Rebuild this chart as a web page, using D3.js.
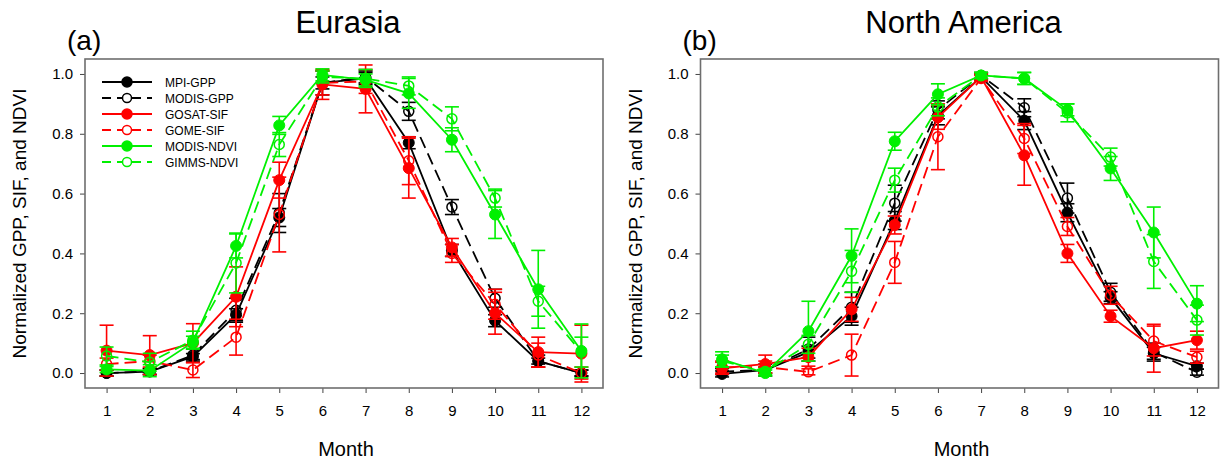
<!DOCTYPE html>
<html>
<head>
<meta charset="utf-8">
<script src="https://cdn.jsdelivr.net/npm/d3@7"></script>
<style>
  body { margin: 0; background: #fff; }
  text { font-family: "Liberation Sans", Arial, sans-serif; }
</style>
</head>
<body>
<div id="container"></div>
<script>
/** DATA */
const months = [1, 2, 3, 4, 5, 6, 7, 8, 9, 10, 11, 12];
const seriesNames = ["MPI-GPP", "MODIS-GPP", "GOSAT-SIF", "GOME-SIF", "MODIS-NDVI", "GIMMS-NDVI"];
const yTicks = [0.0, 0.2, 0.4, 0.6, 0.8, 1.0];

// Eurasia
const euMpiGpp      = [0.0, 0.005, 0.055, 0.195, 0.52, 0.97, 0.985, 0.77, 0.41, 0.175, 0.04, 0.0];
const euMpiGppErr   = [0.01, 0.01, 0.01, 0.02, 0.03, 0.02, 0.02, 0.02, 0.02, 0.02, 0.01, 0.01];
const euModisGpp    = [0.0, 0.005, 0.06, 0.21, 0.535, 0.97, 0.99, 0.875, 0.555, 0.25, 0.04, 0.0];
const euModisGppErr = [0.01, 0.01, 0.02, 0.04, 0.065, 0.04, 0.02, 0.03, 0.025, 0.03, 0.02, 0.01];
const euGosatSif    = [0.075, 0.06, 0.1, 0.255, 0.645, 0.965, 0.95, 0.685, 0.42, 0.2, 0.07, 0.065];
const euGosatSifErr = [0.085, 0.065, 0.065, 0.1, 0.06, 0.05, 0.08, 0.1, 0.03, 0.07, 0.05, 0.095];
const euGomeSif     = [0.03, 0.04, 0.01, 0.12, 0.53, 0.97, 0.975, 0.71, 0.40, 0.23, 0.06, 0.0];
const euGomeSifErr  = [0.02, 0.02, 0.025, 0.06, 0.125, 0.04, 0.04, 0.08, 0.03, 0.05, 0.04, 0.02];
const euModisNdvi   = [0.012, 0.008, 0.103, 0.425, 0.828, 0.997, 0.98, 0.935, 0.78, 0.53, 0.28, 0.074];
const euModisNdviErr= [0.01, 0.02, 0.02, 0.04, 0.03, 0.02, 0.02, 0.05, 0.04, 0.08, 0.13, 0.09];
const euGimmsNdvi   = [0.057, 0.036, 0.11, 0.368, 0.764, 0.99, 0.985, 0.96, 0.85, 0.585, 0.24, 0.07];
const euGimmsNdviErr= [0.03, 0.03, 0.03, 0.1, 0.04, 0.02, 0.03, 0.03, 0.04, 0.03, 0.05, 0.05];

// North America
const naMpiGpp      = [-0.003, 0.01, 0.07, 0.19, 0.51, 0.86, 0.99, 0.844, 0.536, 0.252, 0.066, 0.023];
const naMpiGppErr   = [0.01, 0.01, 0.02, 0.03, 0.03, 0.03, 0.01, 0.03, 0.03, 0.02, 0.02, 0.01];
const naModisGpp    = [0.005, 0.01, 0.08, 0.22, 0.568, 0.88, 0.995, 0.887, 0.585, 0.27, 0.07, 0.003];
const naModisGppErr = [0.01, 0.02, 0.04, 0.05, 0.06, 0.03, 0.01, 0.03, 0.05, 0.03, 0.03, 0.01];
const naGosatSif    = [0.016, 0.03, 0.053, 0.213, 0.495, 0.855, 0.99, 0.728, 0.40, 0.19, 0.083, 0.11];
const naGosatSifErr = [0.02, 0.03, 0.03, 0.04, 0.03, 0.04, 0.01, 0.1, 0.03, 0.02, 0.08, 0.03];
const naGomeSif     = [0.02, 0.02, 0.004, 0.06, 0.37, 0.79, 0.985, 0.784, 0.49, 0.26, 0.107, 0.053];
const naGomeSifErr  = [0.02, 0.02, 0.01, 0.07, 0.07, 0.11, 0.01, 0.05, 0.03, 0.03, 0.05, 0.02];
const naModisNdvi   = [0.046, 0.0, 0.14, 0.392, 0.775, 0.932, 0.995, 0.985, 0.88, 0.684, 0.47, 0.232];
const naModisNdviErr= [0.025, 0.01, 0.1, 0.09, 0.03, 0.035, 0.01, 0.02, 0.02, 0.04, 0.085, 0.06];
const naGimmsNdvi   = [0.04, 0.005, 0.096, 0.34, 0.645, 0.89, 0.995, 0.985, 0.87, 0.722, 0.373, 0.177];
const naGimmsNdviErr= [0.02, 0.01, 0.03, 0.07, 0.04, 0.03, 0.01, 0.02, 0.03, 0.03, 0.09, 0.05];

// style per series (same order as seriesNames)
const seriesColor  = ["#000000", "#000000", "#ff0000", "#ff0000", "#00f000", "#00f000"];
const seriesDashed = [false, true, false, true, false, true];

const panels = [
  { label: "(a)", title: "Eurasia", left: 85, legend: true,
    values: [euMpiGpp, euModisGpp, euGosatSif, euGomeSif, euModisNdvi, euGimmsNdvi],
    errs: [euMpiGppErr, euModisGppErr, euGosatSifErr, euGomeSifErr, euModisNdviErr, euGimmsNdviErr] },
  { label: "(b)", title: "North America", left: 700.5, legend: false,
    values: [naMpiGpp, naModisGpp, naGosatSif, naGomeSif, naModisNdvi, naGimmsNdvi],
    errs: [naMpiGppErr, naModisGppErr, naGosatSifErr, naGomeSifErr, naModisNdviErr, naGimmsNdviErr] }
];

const width = 1221, height = 464;
const plotW = 518, plotTop = 59, plotBottom = 388;

const svg = d3.select("#container").append("svg")
  .attr("width", width).attr("height", height);

const y = d3.scaleLinear().domain([-0.05, 1.05]).range([plotBottom, plotTop]);

panels.forEach(p => {
  const x = d3.scaleLinear().domain([0.5, 12.5]).range([p.left, p.left + plotW]);
  const g = svg.append("g");

  // axes
  g.append("g")
    .attr("transform", `translate(${p.left},0)`)
    .call(d3.axisLeft(y).tickValues(yTicks).tickFormat(d3.format(".1f")).tickSize(5).tickPadding(7))
    .call(a => a.select(".domain").remove())
    .call(a => a.selectAll("line").attr("stroke", "#444"))
    .call(a => a.selectAll("text").attr("font-size", 15).attr("fill", "#000")
      .attr("font-family", "Liberation Sans, Arial, sans-serif"));

  g.append("g")
    .attr("transform", `translate(0,${plotBottom})`)
    .call(d3.axisBottom(x).tickValues(months).tickFormat(d3.format("d")).tickSize(5).tickPadding(12))
    .call(a => a.select(".domain").remove())
    .call(a => a.selectAll("line").attr("stroke", "#444"))
    .call(a => a.selectAll("text").attr("font-size", 15).attr("fill", "#000")
      .attr("font-family", "Liberation Sans, Arial, sans-serif"));

  // frame
  g.append("rect")
    .attr("x", p.left).attr("y", plotTop)
    .attr("width", plotW).attr("height", plotBottom - plotTop)
    .attr("fill", "none").attr("stroke", "#6e6e6e").attr("stroke-width", 1.6);

  // titles
  g.append("text").attr("x", p.left + plotW / 2 + 4).attr("y", 33)
    .attr("text-anchor", "middle").attr("font-size", 31).text(p.title);
  g.append("text").attr("x", p.left - 18).attr("y", 50)
    .attr("font-size", 28).text(p.label);
  g.append("text").attr("x", p.left + plotW / 2 + 2).attr("y", 456)
    .attr("text-anchor", "middle").attr("font-size", 20).text("Month");
  g.append("text")
    .attr("transform", `translate(${p.left - 59},${(plotTop + plotBottom) / 2}) rotate(-90)`)
    .attr("text-anchor", "middle").attr("font-size", 19)
    .text("Normalized GPP, SIF, and NDVI");

  const line = d3.line().x((d, i) => x(months[i])).y(d => y(d));

  seriesNames.forEach((name, s) => {
    const vals = p.values[s], errs = p.errs[s];
    const col = seriesColor[s];
    const sg = g.append("g");

    sg.append("path")
      .attr("d", line(vals))
      .attr("fill", "none").attr("stroke", col).attr("stroke-width", 1.8)
      .attr("stroke-dasharray", seriesDashed[s] ? "12,6" : null);

    // error bars
    const eb = sg.selectAll("g.err").data(vals).join("g").attr("class", "err");
    eb.append("line")
      .attr("x1", (d, i) => x(months[i])).attr("x2", (d, i) => x(months[i]))
      .attr("y1", (d, i) => y(d - errs[i])).attr("y2", (d, i) => y(d + errs[i]))
      .attr("stroke", col).attr("stroke-width", 1.6);
    [-1, 1].forEach(sign => {
      eb.append("line")
        .attr("x1", (d, i) => x(months[i]) - 7).attr("x2", (d, i) => x(months[i]) + 7)
        .attr("y1", (d, i) => y(d + sign * errs[i])).attr("y2", (d, i) => y(d + sign * errs[i]))
        .attr("stroke", col).attr("stroke-width", 1.6);
    });

    // markers
    sg.selectAll("circle").data(vals).join("circle")
      .attr("cx", (d, i) => x(months[i])).attr("cy", d => y(d))
      .attr("r", seriesDashed[s] ? 5 : 5.5)
      .attr("fill", seriesDashed[s] ? "none" : col)
      .attr("stroke", col).attr("stroke-width", seriesDashed[s] ? 1.5 : 1);
  });

  // legend
  if (p.legend) {
    const lg = g.append("g").attr("transform", `translate(${p.left + 17},82)`);
    seriesNames.forEach((name, s) => {
      const row = lg.append("g").attr("transform", `translate(0,${s * 16})`);
      row.append("line").attr("x1", 0).attr("x2", 50).attr("y1", 0).attr("y2", 0)
        .attr("stroke", seriesColor[s]).attr("stroke-width", 1.8)
        .attr("stroke-dasharray", seriesDashed[s] ? "9,6" : null);
      row.append("circle").attr("cx", 25).attr("cy", 0).attr("r", seriesDashed[s] ? 4.5 : 5)
        .attr("fill", seriesDashed[s] ? "#fff" : seriesColor[s])
        .attr("stroke", seriesColor[s]).attr("stroke-width", 1.5);
      row.append("text").attr("x", 63).attr("y", 4.5).attr("font-size", 12).text(name);
    });
  }
});
</script>
</body>
</html>
